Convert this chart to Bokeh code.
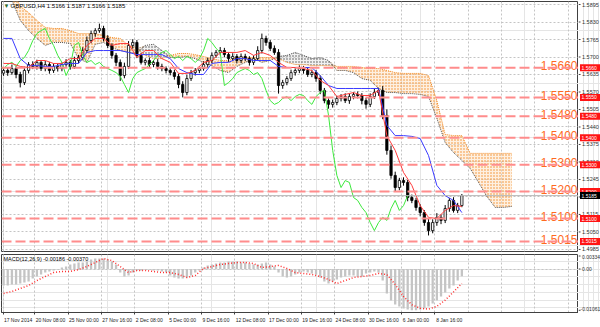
import numpy as np
from bokeh.plotting import figure
from bokeh.layouts import column, row
from bokeh.models import (Range1d, LinearAxis, FixedTicker, Span, Label, Grid, ColumnDataSource)
from bokeh.embed import file_html
from bokeh.resources import INLINE
from bokeh.core.properties import value

# ---------------- data (GBPUSD H4, one candle per two H4 bars) ----------------
candle_bars = list(range(0, 221, 2))
open0 = 1.5640
close = [1.5650, 1.5642, 1.5657, 1.5635, 1.5605, 1.5650, 1.5672, 1.5665, 1.5680, 1.5657,
         1.5672, 1.5650, 1.5665, 1.5657, 1.5672, 1.5680, 1.5665, 1.5687, 1.5698, 1.5724,
         1.5761, 1.5787, 1.5798, 1.5806, 1.5769, 1.5743, 1.5706, 1.5680, 1.5631, 1.5665,
         1.5743, 1.5754, 1.5706, 1.5680, 1.5687, 1.5672, 1.5680, 1.5665, 1.5657, 1.5650,
         1.5642, 1.5628, 1.5598, 1.5568, 1.5620, 1.5642, 1.5650, 1.5657, 1.5672, 1.5687,
         1.5706, 1.5717, 1.5724, 1.5709, 1.5694, 1.5702, 1.5687, 1.5702, 1.5694, 1.5680,
         1.5694, 1.5724, 1.5769, 1.5754, 1.5732, 1.5717, 1.5594, 1.5605, 1.5620, 1.5642,
         1.5650, 1.5657, 1.5650, 1.5635, 1.5642, 1.5620, 1.5576, 1.5538, 1.5524, 1.5531,
         1.5546, 1.5553, 1.5538, 1.5553, 1.5561, 1.5557, 1.5538, 1.5524, 1.5553, 1.5568,
         1.5576, 1.5483, 1.5353, 1.5260, 1.5215, 1.5241, 1.5234, 1.5178, 1.5167, 1.5141,
         1.5122, 1.5085, 1.5055, 1.5085, 1.5104, 1.5093, 1.5137, 1.5167, 1.5130, 1.5148,
         1.5185]
wick_up_pips = [12, 9, 15, 8, 10, 14, 9, 12, 10, 8,
                13, 9, 11, 10, 8, 12, 9, 14, 10, 12,
                15, 11, 9, 18, 10, 12, 8, 9, 11, 14,
                16, 12, 9, 10, 8, 11, 9, 12, 10, 8,
                9, 11, 10, 12, 14, 10, 9, 8, 12, 10,
                11, 9, 13, 10, 8, 12, 9, 11, 10, 9,
                12, 16, 18, 10, 9, 11, 12, 10, 9, 11,
                8, 12, 10, 9, 11, 10, 12, 9, 8, 11,
                10, 9, 12, 10, 8, 11, 9, 10, 12, 14,
                10, 16, 22, 18, 14, 10, 12, 9, 11, 10,
                12, 9, 14, 12, 16, 11, 13, 9, 12, 10, 6]
wick_dn_pips = [10, 12, 8, 14, 18, 9, 11, 10, 12, 9,
                10, 12, 9, 11, 10, 8, 12, 9, 10, 8,
                9, 10, 12, 8, 11, 10, 12, 14, 20, 10,
                9, 12, 10, 8, 11, 9, 10, 12, 10, 11,
                10, 12, 14, 18, 10, 9, 11, 10, 8, 12,
                10, 9, 11, 10, 12, 9, 11, 10, 9, 12,
                10, 9, 11, 12, 10, 9, 30, 12, 10, 9,
                11, 10, 12, 9, 10, 12, 14, 10, 16, 12,
                10, 11, 9, 12, 10, 11, 14, 16, 10, 9,
                12, 14, 16, 12, 14, 10, 12, 14, 10, 12,
                14, 12, 18, 10, 12, 14, 10, 12, 8, 10, 6]

line_bars = list(range(0, 221, 4))
tenkan = [1.5676, 1.5676, 1.5665, 1.5661, 1.5687, 1.5687, 1.5676, 1.5676, 1.5694, 1.5694,
          1.5743, 1.5769, 1.5769, 1.5743, 1.5750, 1.5750, 1.5698, 1.5724, 1.5724, 1.5694,
          1.5680, 1.5639, 1.5639, 1.5650, 1.5680, 1.5687, 1.5717, 1.5717, 1.5717, 1.5724,
          1.5706, 1.5717, 1.5706, 1.5680, 1.5661, 1.5661, 1.5657, 1.5650, 1.5613, 1.5594,
          1.5553, 1.5561, 1.5568, 1.5557, 1.5557, 1.5576, 1.5408, 1.5353, 1.5271, 1.5223,
          1.5148, 1.5104, 1.5100, 1.5130, 1.5148, 1.5145]
kijun = [1.5769, 1.5769, 1.5694, 1.5668, 1.5668, 1.5665, 1.5665, 1.5672, 1.5676, 1.5676,
         1.5717, 1.5724, 1.5724, 1.5724, 1.5724, 1.5717, 1.5709, 1.5709, 1.5709, 1.5709,
         1.5694, 1.5657, 1.5642, 1.5635, 1.5635, 1.5676, 1.5680, 1.5680, 1.5694, 1.5694,
         1.5687, 1.5687, 1.5687, 1.5665, 1.5661, 1.5661, 1.5661, 1.5661, 1.5631, 1.5594,
         1.5583, 1.5583, 1.5583, 1.5583, 1.5583, 1.5583, 1.5446, 1.5408, 1.5408, 1.5405,
         1.5397, 1.5334, 1.5223, 1.5185, 1.5167, 1.5122]
chikou_shift = 26

senkou_bars = list(range(0, 245, 4))
senkou_a = [1.5940, 1.5910, 1.5836, 1.5798, 1.5769, 1.5743, 1.5754, 1.5754, 1.5750, 1.5694,
            1.5680, 1.5747, 1.5754, 1.5735, 1.5724, 1.5717, 1.5713, 1.5743, 1.5747, 1.5724,
            1.5698, 1.5698, 1.5702, 1.5694, 1.5680, 1.5668, 1.5650, 1.5642, 1.5665, 1.5680,
            1.5694, 1.5680, 1.5687, 1.5702, 1.5706, 1.5717, 1.5706, 1.5694, 1.5698, 1.5687,
            1.5650, 1.5650, 1.5642, 1.5620, 1.5613, 1.5583, 1.5568, 1.5568, 1.5564, 1.5564,
            1.5561, 1.5553, 1.5472, 1.5382, 1.5345, 1.5316, 1.5286, 1.5234, 1.5182, 1.5141,
            1.5141, 1.5145]
senkou_b = [1.6003, 1.5955, 1.5888, 1.5865, 1.5836, 1.5810, 1.5806, 1.5806, 1.5798, 1.5787,
            1.5787, 1.5787, 1.5780, 1.5772, 1.5769, 1.5743, 1.5732, 1.5706, 1.5694, 1.5694,
            1.5706, 1.5713, 1.5713, 1.5709, 1.5702, 1.5694, 1.5687, 1.5687, 1.5698, 1.5698,
            1.5698, 1.5698, 1.5698, 1.5694, 1.5680, 1.5672, 1.5672, 1.5668, 1.5668, 1.5668,
            1.5665, 1.5665, 1.5665, 1.5661, 1.5657, 1.5657, 1.5650, 1.5642, 1.5639, 1.5639,
            1.5639, 1.5631, 1.5538, 1.5412, 1.5408, 1.5408, 1.5342, 1.5342, 1.5342, 1.5342,
            1.5342, 1.5342]

macd_hist = [-0.00424, -0.00424, -0.00398, -0.00398, -0.00373, -0.00347, -0.00321, -0.00244, -0.00193, -0.00141,
             -0.00090, -0.00064, -0.00039, -0.00013, 0.00039, 0.00064, 0.00116, 0.00141, 0.00167, 0.00167,
             0.00193, 0.00244, 0.00270, 0.00270, 0.00270, 0.00244, 0.00193, 0.00116, -0.00090, -0.00193,
             -0.00167, -0.00090, -0.00039, -0.00039, -0.00013, -0.00013, -0.00039, -0.00039, -0.00064, -0.00090,
             -0.00167, -0.00218, -0.00244, -0.00244, -0.00218, -0.00167, -0.00090, -0.00039, 0.00039, 0.00090,
             0.00116, 0.00141, 0.00167, 0.00167, 0.00193, 0.00193, 0.00193, 0.00167, 0.00167, 0.00141,
             0.00116, 0.00116, 0.00141, 0.00167, 0.00116, 0.00064, -0.00090, -0.00193, -0.00218, -0.00193,
             -0.00141, -0.00090, -0.00064, -0.00090, -0.00116, -0.00141, -0.00218, -0.00321, -0.00373, -0.00321,
             -0.00270, -0.00218, -0.00193, -0.00167, -0.00167, -0.00193, -0.00193, -0.00116, -0.00090, -0.00064,
             -0.00090, -0.00296, -0.00630, -0.00810, -0.00912, -0.00964, -0.01015, -0.01041, -0.01061, -0.01061,
             -0.01041, -0.01015, -0.00964, -0.00887, -0.00810, -0.00707, -0.00604, -0.00501, -0.00424, -0.00296, -0.00186]
macd_signal = [-0.00630, -0.00578, -0.00501, -0.00424, -0.00296, -0.00193, -0.00090, -0.00064, -0.00064, -0.00013,
               0.00064, 0.00167, 0.00270, 0.00218, 0.00064, -0.00090, -0.00039, -0.00039, -0.00064, -0.00090,
               -0.00090, -0.00141, -0.00218, -0.00167, 0.00013, 0.00064, 0.00116, 0.00141, 0.00167, 0.00167,
               0.00141, 0.00039, 0.00064, 0.00090, 0.00013, -0.00090, -0.00116, -0.00141, -0.00193, -0.00270,
               -0.00373, -0.00296, -0.00218, -0.00193, -0.00167, -0.00116, -0.00141, -0.00398, -0.00707, -0.00920,
               -0.01010, -0.01030, -0.00960, -0.00800, -0.00590, -0.00370]

levels = [1.5660, 1.5550, 1.5480, 1.5400, 1.5300, 1.5200, 1.5100, 1.5015]
level_text = ["1.5660", "1.5550", "1.5480", "1.5400", "1.5300", "1.5200", "1.5100", "1.5015"]
last_price = 1.5185
last_price_text = "1.5185"
price_ticks = [1.5895, 1.5830, 1.5765, 1.5700, 1.5635, 1.5570, 1.5505, 1.5440,
               1.5375, 1.5310, 1.5245, 1.5180, 1.5115, 1.5050, 1.4985]
price_tick_text = ["1.5895", "1.5830", "1.5765", "1.5700", "1.5635", "1.5570", "1.5505", "1.5440",
                   "1.5375", "1.5310", "1.5245", "1.5180", "1.5115", "1.5050", "1.4985"]
macd_ticks = [0.00334, 0.0, -0.01061]
macd_tick_text = ["0.00334", "0.00", "-0.01061"]
time_tick_bars = [0, 15, 31, 47, 63, 79, 95, 111, 127, 143, 159, 175, 191, 207]
time_tick_text = ["17 Nov 2014", "20 Nov 08:00", "25 Nov 00:00", "27 Nov 16:00", "2 Dec 08:00",
                  "5 Dec 00:00", "9 Dec 16:00", "12 Dec 08:00", "17 Dec 00:00", "19 Dec 16:00",
                  "24 Dec 08:00", "30 Dec 16:00", "6 Jan 00:00", "8 Jan 16:00"]
extra_grid_bars = [223, 239, 255, 271]
header_text = "GBPUSD,H4  1.5166 1.5187 1.5166 1.5185"
macd_header = "MACD(12,26,9) -0.00186 -0.00370"

# ---------------- styling ----------------
FONT = "Liberation Sans"
GRID = "#c4c4c4"
AXC = "#404040"
ORANGE = "#f28a22"
X0, X1 = -1.0, 276.0
PX_PER_BAR = 577.0 / (X1 - X0)
xr = Range1d(X0, X1)
yr = Range1d(1.49774, 1.59062)
yr_macd = Range1d(-0.01118, 0.00373)


def side_panel(y_range, frame_h, top, bottom):
    s = figure(frame_width=22, frame_height=frame_h, x_range=Range1d(0, 22), y_range=y_range,
               output_backend="svg", toolbar_location=None, x_axis_location=None,
               y_axis_location=None, min_border_left=0, min_border_right=0,
               min_border_top=top, min_border_bottom=bottom, outline_line_color=None,
               background_fill_color="white", border_fill_color="white")
    return s


# ---------------- main price panel ----------------
p = figure(frame_width=577, frame_height=250, x_range=xr, y_range=yr,
           output_backend="svg", toolbar_location=None, x_axis_location=None, y_axis_location=None,
           min_border_left=1, min_border_top=1, min_border_bottom=2, min_border_right=0,
           outline_line_color=AXC, background_fill_color="white", border_fill_color="white")

p.add_layout(Grid(dimension=1, ticker=FixedTicker(ticks=price_ticks), grid_line_color=GRID,
                  grid_line_dash="2 2"))
p.add_layout(Grid(dimension=0, ticker=FixedTicker(ticks=time_tick_bars + extra_grid_bars),
                  grid_line_color=GRID, grid_line_dash="2 2"))

# Ichimoku cloud (dotted kumo)
sa = np.array(senkou_a)
sb = np.array(senkou_b)
top = np.maximum(sa, sb)
p.varea(x=senkou_bars, y1=sa, y2=top, fill_color="#fbd3a8", fill_alpha=0.35,
        hatch_pattern="dot", hatch_color=ORANGE, hatch_scale=3, hatch_weight=1.8)
p.varea(x=senkou_bars, y1=sb, y2=top, fill_color="#d0d0d0", fill_alpha=0.3,
        hatch_pattern="dot", hatch_color="#505050", hatch_scale=3, hatch_weight=1.5)
p.line(senkou_bars, senkou_b, line_color=ORANGE, line_dash="1 1", line_width=1)
p.line(senkou_bars, senkou_a, line_color="#505050", line_dash="1 1", line_width=1)

# level lines
for lv in levels:
    p.add_layout(Span(location=lv, dimension="width", line_color="#ff8c8c",
                      line_width=2, line_dash="10 4"))
p.add_layout(Span(location=last_price, dimension="width", line_color="#b8b8b8", line_width=1))

# candles
opens = [open0] + close[:-1]
hi = [max(o, c) + u * 0.0001 for o, c, u in zip(opens, close, wick_up_pips)]
lo = [min(o, c) - d * 0.0001 for o, c, d in zip(opens, close, wick_dn_pips)]
csrc = ColumnDataSource(dict(
    x=candle_bars, hi=hi, lo=lo,
    top=[max(o, c) for o, c in zip(opens, close)],
    bot=[min(o, c) for o, c in zip(opens, close)],
    fill=["white" if c >= o else "black" for o, c in zip(opens, close)]))
p.segment(x0="x", y0="hi", x1="x", y1="lo", source=csrc, line_color="black", line_width=1)
p.vbar(x="x", top="top", bottom="bot", width=1.1, source=csrc, fill_color="fill",
       line_color="black", line_width=0.8)

# Ichimoku lines
p.line([b - chikou_shift for b in candle_bars], close, line_color="#3de83d", line_width=1)
p.line(line_bars, kijun, line_color="#3b3bff", line_width=1)
p.line(line_bars, tenkan, line_color="#ff3b3b", line_width=1)

# level labels inside the chart
lsrc = ColumnDataSource(dict(x=[X1] * len(levels), y=levels, t=level_text))
p.text(x="x", y="y", text="t", source=lsrc, text_align="right", text_baseline="alphabetic",
       x_offset=-1, y_offset=-2, text_color="#ff6a1f", text_font=value(FONT),
       text_font_size="12px")

p.add_layout(Label(x=X0, y=yr.end, x_offset=2, y_offset=-1, text="\u25bc", text_font=FONT,
                   text_font_size="6px", text_color="#2a6a2a", text_baseline="top"))
p.add_layout(Label(x=X0, y=yr.end, x_offset=9, y_offset=-1, text=header_text, text_font=FONT,
                   text_font_size="6px", text_color="black", text_baseline="top"))

# price scale panel (right)
ps = side_panel(yr, 250, 1, 2)
ps.segment(x0=0, x1=2, y0="y", y1="y", source=ColumnDataSource(dict(y=price_ticks)),
           line_color=AXC, line_width=1)
ps.text(x=3.5, y="y", text="t", source=ColumnDataSource(dict(y=price_ticks, t=price_tick_text)),
        text_baseline="middle", text_align="left", text_font=value(FONT), text_font_size="5.5px",
        text_color="#333333")
ps.rect(x=11.5, y="y", width=20, height=7, height_units="screen",
        source=ColumnDataSource(dict(y=levels)), fill_color="#ff1414", line_color=None)
ps.text(x=3, y="y", text="t", source=ColumnDataSource(dict(y=levels, t=level_text)),
        text_baseline="middle", text_align="left", text_font=value(FONT), text_font_size="5px",
        text_color="white")
ps.rect(x=[11.5], y=[last_price], width=20, height=7, height_units="screen",
        fill_color="black", line_color=None)
ps.text(x=[3], y=[last_price], text=[last_price_text], text_baseline="middle", text_align="left",
        text_font=value(FONT), text_font_size="5px", text_color="white")

# ---------------- MACD panel ----------------
q = figure(frame_width=577, frame_height=58, x_range=xr, y_range=yr_macd,
           output_backend="svg", toolbar_location=None, x_axis_location=None, y_axis_location=None,
           min_border_left=1, min_border_top=1, min_border_bottom=10, min_border_right=0,
           outline_line_color=AXC, background_fill_color="white", border_fill_color="white")
q.add_layout(Grid(dimension=0, ticker=FixedTicker(ticks=time_tick_bars + extra_grid_bars),
                  grid_line_color=GRID, grid_line_dash="2 2"))
q.add_layout(Grid(dimension=1, ticker=FixedTicker(ticks=[0.0]), grid_line_color=GRID,
                  grid_line_dash="2 2"))

# time axis: labels start at their tick, as in the terminal
label_pos = [round(b + (len(t) * 2.45 / 2 + 1.0) / PX_PER_BAR, 3)
             for b, t in zip(time_tick_bars, time_tick_text)]
qx = LinearAxis(ticker=FixedTicker(ticks=label_pos, minor_ticks=time_tick_bars),
                major_label_overrides=dict(zip(label_pos, time_tick_text)),
                major_label_text_font_size="5px", major_label_text_font=FONT,
                major_label_text_color="#222222", axis_line_color=AXC,
                major_tick_out=0, major_tick_in=0, minor_tick_out=2, minor_tick_in=0,
                minor_tick_line_color=AXC, major_label_standoff=2)
q.add_layout(qx, "below")

q.vbar(x=candle_bars, top=macd_hist, bottom=0, width=1.1, fill_color="#c4c4c4",
       line_color=None)
q.line(line_bars, macd_signal, line_color="#ff3030", line_dash="1 2", line_width=1.5)
q.add_layout(Label(x=X0, y=yr_macd.end, x_offset=2, y_offset=-1, text=macd_header, text_font=FONT,
                   text_font_size="5.5px", text_color="black", text_baseline="top"))

qs = side_panel(yr_macd, 58, 1, 10)
qs.segment(x0=0, x1=2, y0="y", y1="y", source=ColumnDataSource(dict(y=macd_ticks)),
           line_color=AXC, line_width=1)
qs.text(x=[3.5], y=[macd_ticks[0]], text=[macd_tick_text[0]], text_baseline="middle",
        y_offset=1, text_font=value(FONT), text_font_size="5px", text_color="#333333")
qs.text(x=[3.5], y=[macd_ticks[1]], text=[macd_tick_text[1]], text_baseline="middle",
        text_font=value(FONT), text_font_size="5px", text_color="#333333")
qs.text(x=[2.0], y=[macd_ticks[2]], text=[macd_tick_text[2]], text_baseline="middle",
        y_offset=-1, text_font=value(FONT), text_font_size="5px", text_color="#333333")

# ---------------- bottom tab strip ----------------
r = figure(width=600, height=5, x_range=Range1d(0, 600), y_range=Range1d(0, 5),
           output_backend="svg", toolbar_location=None, x_axis_location=None, y_axis_location=None,
           min_border=0, outline_line_color=None, background_fill_color="#d8d8d8",
           border_fill_color="#d8d8d8")
r.quad(left=[83], right=[125], bottom=[0], top=[5], fill_color="white", line_color="#909090")

layout = column(row(p, ps, spacing=0), row(q, qs, spacing=0), r, spacing=0)
open("out.html", "w").write(file_html(layout, INLINE))
